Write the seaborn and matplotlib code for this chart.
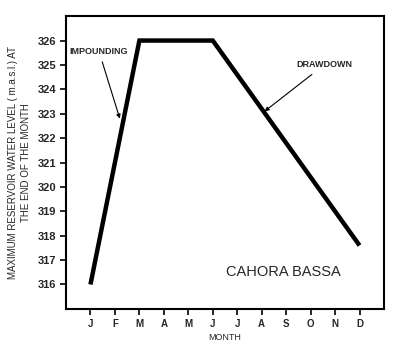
import matplotlib
matplotlib.use("Agg")
import matplotlib.pyplot as plt
import seaborn as sns
import pandas as pd

sns.set_style("ticks")
plt.rcParams['font.family'] = ['Liberation Sans', 'DejaVu Sans']

months = ["J", "F", "M", "A", "M", "J", "J", "A", "S", "O", "N", "D"]
month_idx = [0, 2, 5, 11]
level = [316.0, 326.0, 326.0, 317.6]

df = pd.DataFrame({"month": month_idx, "level": level})

fig = plt.figure(figsize=(4.0, 3.51), dpi=100)
ax = fig.add_axes([0.165, 0.12, 0.795, 0.834])
sns.lineplot(data=df, x="month", y="level", ax=ax, color="black", linewidth=3.2,
             solid_capstyle="butt", solid_joinstyle="miter")

ax.set_xlim(-1, 12)
ax.set_ylim(315, 327)
ax.set_xticks(range(12))
ax.set_xticklabels(months, fontsize=7, fontweight="bold")
ax.set_yticks(range(316, 327))
ax.set_yticklabels([str(v) for v in range(316, 327)], fontsize=8, fontweight="bold")
ax.tick_params(direction="out", length=4, width=1.2, color="black", pad=3)

for s in ax.spines.values():
    s.set_linewidth(1.5)
    s.set_color("black")

ax.set_xlabel("MONTH", fontsize=6.5, labelpad=3)
ax.set_ylabel("MAXIMUM RESERVOIR WATER LEVEL ( m.a.s.l.) AT\nTHE END OF THE MONTH",
              fontsize=7, labelpad=5, linespacing=1.4)

ax.annotate("IMPOUNDING", xy=(1.2, 322.8), xytext=(0.35, 325.55),
            fontsize=6.5, fontweight="bold", ha="center", va="center",
            arrowprops=dict(arrowstyle="-|>", color="black", lw=0.8, mutation_scale=6,
                            shrinkA=2, shrinkB=0))
ax.annotate("DRAWDOWN", xy=(7.12, 323.1), xytext=(9.55, 325.0),
            fontsize=6.5, fontweight="bold", ha="center", va="center",
            arrowprops=dict(arrowstyle="-|>", color="black", lw=0.8, mutation_scale=6,
                            shrinkA=2, shrinkB=0))

ax.text(7.87, 316.53, "CAHORA BASSA", fontsize=10.5, ha="center", va="center")

fig.savefig("out.png", dpi=100)
